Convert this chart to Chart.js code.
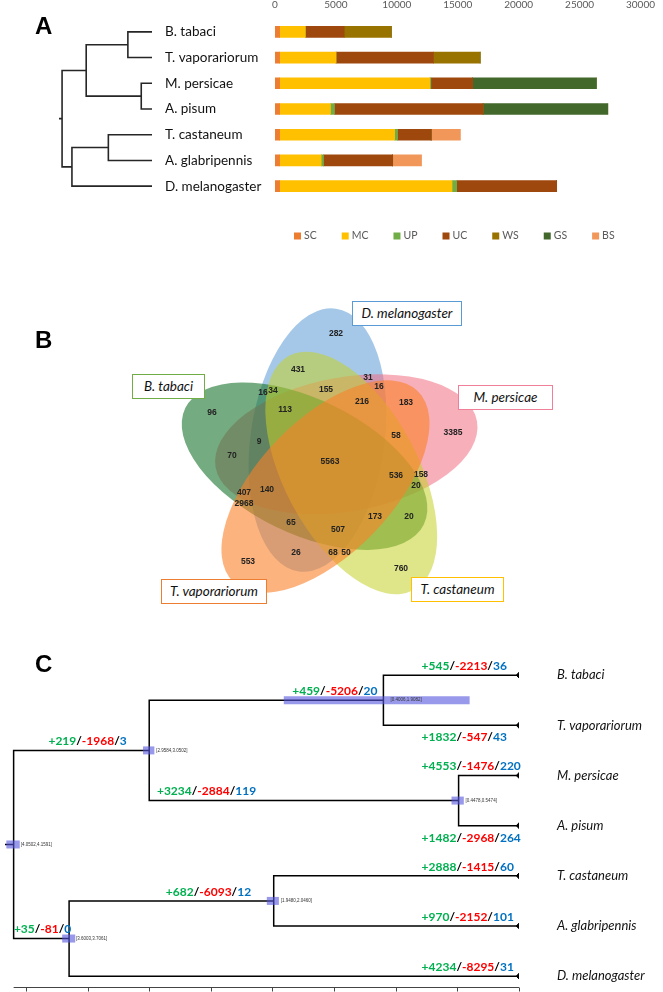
<!DOCTYPE html>
<html><head><meta charset="utf-8">
<script src="https://cdn.jsdelivr.net/npm/chart.js@4.4.1/dist/chart.umd.min.js"></script>
<style>
html,body{margin:0;padding:0;background:#fff;}
#wrap{position:relative;width:663px;height:992px;overflow:hidden;font-family:Lato,'Liberation Sans',sans-serif;}
canvas{position:absolute;}
.lbl{position:absolute;font-weight:bold;font-size:24px;line-height:24px;font-family:'Liberation Sans',Arial,sans-serif;color:#000;}
.box{position:absolute;background:#fff;border:1.5px solid;font-style:italic;font-size:13.5px;text-align:center;height:23px;line-height:23px;color:#111;font-family:Lato,sans-serif;}
</style></head><body>
<div id="wrap">
<canvas id="cA" width="663" height="250" style="left:0;top:0"></canvas>
<canvas id="cTA" width="165" height="250" style="left:0;top:0"></canvas>
<canvas id="cB" width="663" height="370" style="left:0;top:250px"></canvas>
<canvas id="cC" width="663" height="372" style="left:0;top:620px"></canvas>
<div class="lbl" style="left:35px;top:14px">A</div>
<div class="lbl" style="left:35px;top:328px">B</div>
<div class="lbl" style="left:35px;top:652px">C</div>
<div class="box" style="left:352px;top:301px;width:108px;border-color:#5B9BD5">D. melanogaster</div>
<div class="box" style="left:132px;top:374px;width:71px;border-color:#70AD47">B. tabaci</div>
<div class="box" style="left:458px;top:385px;width:93px;border-color:#F0809A">M. persicae</div>
<div class="box" style="left:161px;top:579px;width:104px;border-color:#ED7D31">T. vaporariorum</div>
<div class="box" style="left:411px;top:577px;width:91px;border-color:#FFC000">T. castaneum</div>
</div>
<script>
// ================= DATA =================
const species = ['B. tabaci','T. vaporariorum','M. persicae','A. pisum','T. castaneum','A. glabripennis','D. melanogaster'];
const geneTypes = ['SC','MC','UP','UC','WS','GS','BS'];
const SC = [380,380,380,380,380,380,380];
const MC = [2110,4630,12330,4170,9440,3410,14150];
const UP = [0,0,80,330,240,190,380];
const UC = [3190,8000,3430,12200,2760,5680,8210];
const WS = [3870,3830,0,0,0,0,0];
const GS = [0,0,10170,10240,0,0,0];
const BS = [0,0,0,0,2400,2370,0];
const countTicks = [0,5000,10000,15000,20000,25000,30000];

// Venn (set order: D. melanogaster, M. persicae, T. castaneum, T. vaporariorum, B. tabaci)
const vennSets = ['D. melanogaster','M. persicae','T. castaneum','T. vaporariorum','B. tabaci'];
const vennCombos = ['10000','01000','00100','00010','00001',
  '11000','01100','00110','00011','10001',
  '10100','01010','00101','10010','01001',
  '11100','01110','00111','10011','11001',
  '11010','01101','10110','01011','10101',
  '11110','01111','10111','11011','11101','11111'];
const vennCounts = [282,3385,760,553,96,
  31,158,50,2968,16,
  431,183,20,26,70,
  155,58,173,65,9,
  16,20,68,407,34,
  216,536,507,140,113,5563];

// Time tree (ages in 100 Myr)
const nodeNames = ['root','Hemiptera','Aleyrodidae','Aphididae','Holometabola','Coleoptera'];
const nodeParent = [null,'root','Hemiptera','Hemiptera','root','Holometabola'];
const nodeAges = [4.10,3.00,1.10,0.49,3.65,1.99];
const nodeCILow = [4.0502,2.9584,0.4006,0.4478,3.6003,1.9480];
const nodeCIHigh = [4.1591,3.0502,1.9082,0.5474,3.7061,2.0460];
const tipParent = ['Aleyrodidae','Aleyrodidae','Aphididae','Aphididae','Coleoptera','Coleoptera','Holometabola'];
const tipGain = [545,1832,4553,1482,2888,970,4234];
const tipLoss = [2213,547,1476,2968,1415,2152,8295];
const tipRapid = [36,43,220,264,60,101,31];
const nodeGain = [null,219,459,3234,35,682];
const nodeLoss = [null,1968,5206,2884,81,6093];
const nodeRapid = [null,3,20,119,0,12];
const timeTicks = [4.0,3.5,3.0,2.5,2.0,1.5,1.0,0.5,0];

// ================= STYLE / LAYOUT =================
Chart.defaults.font.family = "Lato, 'Liberation Sans', sans-serif";
const typeColors = ['#ED7D31','#FFC000','#70AD47','#9E480E','#997300','#43682B','#F1975A'];
const vennFill = ['rgba(91,155,213,0.55)','rgba(240,110,130,0.55)','rgba(196,208,40,0.55)','rgba(250,128,40,0.6)','rgba(30,120,50,0.62)'];
const vennDrawOrder = [0,1,4,2,3];
const VG = {r:24.8, a:132.7, b:67, offAng:-117.8, axisAng:-82};
const ROOT_STUB = 0.14;
const nodeLabelAge = [null,3.50,1.494,2.535,3.865,2.519];
const TIP_LABEL_AGE = 0.79;
const tipLabelBelow = [false,true,false,true,false,false,false];

// ================= TREE HELPERS =================
function treeLayout(){
  const yTip = species.map((s,i)=>i);
  const nodeY = {};
  function yOf(name){
    if (nodeY[name]!==undefined) return nodeY[name];
    const kids = [];
    tipParent.forEach((p,i)=>{ if(p===name) kids.push(yTip[i]); });
    nodeParent.forEach((p,i)=>{ if(p===name) kids.push(yOf(nodeNames[i])); });
    const y = kids.reduce((a,b)=>a+b,0)/kids.length;
    nodeY[name]=y; return y;
  }
  nodeNames.forEach(n=>yOf(n));
  const ageOf = n => nodeAges[nodeNames.indexOf(n)];
  const pts = [];
  const gap = () => pts.push({x:0,y:null});
  tipParent.forEach((p,i)=>{ pts.push({x:ageOf(p),y:nodeY[p]},{x:ageOf(p),y:yTip[i]},{x:0,y:yTip[i]}); gap(); });
  nodeParent.forEach((p,i)=>{ if(!p) return; const n=nodeNames[i];
    pts.push({x:ageOf(p),y:nodeY[p]},{x:ageOf(p),y:nodeY[n]},{x:nodeAges[i],y:nodeY[n]}); gap(); });
  pts.push({x:nodeAges[0]+ROOT_STUB,y:nodeY.root},{x:nodeAges[0],y:nodeY.root});
  return {pts, nodeY, yTip};
}
const TL = treeLayout();

// ================= PANEL A =================
const legendA = {id:'legendA', afterDraw(chart){
  const ctx=chart.ctx; ctx.save(); ctx.font="10.5px Lato"; ctx.textBaseline='middle';
  let x=294; const y=236;
  chart.data.datasets.forEach(ds=>{
    ctx.fillStyle=ds.backgroundColor; ctx.fillRect(x,y-3.5,7,7);
    ctx.fillStyle='#595959'; ctx.fillText(ds.label,x+10,y);
    x += 10 + ctx.measureText(ds.label).width + 25;
  });
  ctx.restore();
}};
const seriesA = [SC,MC,UP,UC,WS,GS,BS];
new Chart(document.getElementById('cA'), {
  type:'bar',
  data:{labels:species, datasets: geneTypes.map((g,i)=>({label:g, data:seriesA[i], backgroundColor:typeColors[i], barThickness:11, borderWidth:0}))},
  options:{
    indexAxis:'y', responsive:false, animation:false, events:[],
    layout:{padding:{left:165,right:17,top:0,bottom:51}},
    plugins:{legend:{display:false}, tooltip:{enabled:false}},
    scales:{
      x:{position:'top', stacked:true, min:0, max:30000,
         afterBuildTicks(s){ s.ticks = countTicks.map(v=>({value:v})); },
         ticks:{color:'#595959', font:{size:10}, padding:8, maxRotation:0, autoSkip:false, callback:v=>String(v)},
         grid:{display:false, drawTicks:false}, border:{display:false},
         afterFit(s){ s.height=19; }},
      y:{stacked:true, ticks:{crossAlign:'far', color:'#111', font:{size:13.5}, padding:0},
         grid:{display:false, drawTicks:false}, border:{display:false},
         afterFit(s){ s.width=110; }}
    }
  },
  plugins:[legendA]
});

new Chart(document.getElementById('cTA'), {
  type:'scatter',
  data:{datasets:[{data:TL.pts, showLine:true, spanGaps:false, borderColor:'#262626', borderWidth:1.6, pointRadius:0}]},
  options:{responsive:false, animation:false, events:[],
    layout:{padding:{left:59,right:13,top:19,bottom:51}},
    plugins:{legend:{display:false}, tooltip:{enabled:false}},
    scales:{x:{type:'linear', reverse:true, min:0, max:nodeAges[0]+ROOT_STUB, display:false},
            y:{type:'linear', reverse:true, min:-0.5, max:6.5, display:false}}}
});

// ================= PANEL B (Venn) =================
function vennEllipses(){
  const out=[];
  for(let k=0;k<5;k++){
    const oa=(VG.offAng+72*k)*Math.PI/180, aa=(VG.axisAng+72*k)*Math.PI/180;
    out.push({cx:VG.r*Math.cos(oa), cy:VG.r*Math.sin(oa), ux:Math.cos(aa), uy:Math.sin(aa), rot:aa, a:VG.a, b:VG.b});
  }
  return out;
}
const ELL = vennEllipses();
function regionPoles(){
  const x0=-200,x1=200,y0=-180,y1=170, W=x1-x0+1, H=y1-y0+1;
  const mask=new Uint8Array(W*H);
  for(let j=0;j<H;j++) for(let i=0;i<W;i++){
    const px=x0+i, py=y0+j; let m=0;
    for(let k=0;k<5;k++){ const e=ELL[k]; const dx=px-e.cx, dy=py-e.cy;
      const s=dx*e.ux+dy*e.uy, t=-dx*e.uy+dy*e.ux;
      if((s/e.a)*(s/e.a)+(t/e.b)*(t/e.b)<1) m|=(1<<k); }
    mask[j*W+i]=m;
  }
  const d=new Float32Array(W*H); const INF=1e9;
  for(let j=0;j<H;j++) for(let i=0;i<W;i++){ const id=j*W+i, m=mask[id];
    let b=(i===0||j===0||i===W-1||j===H-1);
    if(!b && (mask[id-1]!==m||mask[id+1]!==m||mask[id-W]!==m||mask[id+W]!==m)) b=true;
    d[id]=b?0:INF; }
  const R2=1.4142;
  for(let j=1;j<H-1;j++) for(let i=1;i<W-1;i++){ const id=j*W+i; let v=d[id]; if(v===0) continue;
    v=Math.min(v,d[id-1]+1,d[id-W]+1,d[id-W-1]+R2,d[id-W+1]+R2); d[id]=v; }
  for(let j=H-2;j>0;j--) for(let i=W-2;i>0;i--){ const id=j*W+i; let v=d[id]; if(v===0) continue;
    v=Math.min(v,d[id+1]+1,d[id+W]+1,d[id+W+1]+R2,d[id+W-1]+R2); d[id]=v; }
  const best={};
  for(let j=0;j<H;j++) for(let i=0;i<W;i++){ const id=j*W+i, m=mask[id]; if(!m) continue;
    if(!best[m]||d[id]>best[m].d) best[m]={d:d[id],x:x0+i,y:y0+j}; }
  return best;
}
const POLES = regionPoles();
const comboMask = c => c.split('').reduce((m,ch,k)=>m|(ch==='1'?(1<<k):0),0);
const vennPts = vennCombos.map(c=>{ const p=POLES[comboMask(c)]; return p?{x:p.x,y:p.y}:{x:0,y:null}; });

const vennPlugin = {id:'venn',
  beforeDatasetsDraw(chart){
    const ctx=chart.ctx, xs=chart.scales.x, ys=chart.scales.y;
    const kx=xs.getPixelForValue(1)-xs.getPixelForValue(0), ky=ys.getPixelForValue(1)-ys.getPixelForValue(0);
    ctx.save();
    vennDrawOrder.forEach(k=>{ const e=ELL[k];
      ctx.beginPath();
      ctx.ellipse(xs.getPixelForValue(e.cx), ys.getPixelForValue(e.cy), e.a*Math.abs(kx), e.b*Math.abs(ky), e.rot, 0, Math.PI*2);
      ctx.fillStyle=vennFill[k]; ctx.fill(); });
    ctx.restore();
  },
  afterDatasetsDraw(chart){
    const ctx=chart.ctx, meta=chart.getDatasetMeta(0);
    ctx.save(); ctx.font="bold 8.5px 'Liberation Sans', Arial, sans-serif"; ctx.fillStyle='#222';
    ctx.textAlign='center'; ctx.textBaseline='middle';
    meta.data.forEach((el,i)=>{ if(vennPts[i].y===null) return; ctx.fillText(String(vennCounts[i]), el.x, el.y); });
    ctx.restore();
  }};
new Chart(document.getElementById('cB'), {
  type:'scatter',
  data:{datasets:[{label:'shared gene families', data:vennPts, pointRadius:0}]},
  options:{responsive:false, animation:false, events:[],
    layout:{padding:0},
    plugins:{legend:{display:false}, tooltip:{enabled:false}},
    scales:{x:{type:'linear', min:-329, max:334, display:false},
            y:{type:'linear', reverse:true, min:-212, max:158, display:false}}},
  plugins:[vennPlugin]
});

// ================= PANEL C =================
function drawParts(ctx, parts, x, y, align){
  ctx.font="bold 12px Lato";
  const w=parts.map(p=>ctx.measureText(p[0]).width), tot=w.reduce((a,b)=>a+b,0);
  let cx = align==='center'? x-tot/2 : (align==='right'? x-tot : x);
  ctx.textAlign='left'; ctx.textBaseline='middle';
  parts.forEach((p,i)=>{ ctx.fillStyle=p[1]; ctx.fillText(p[0],cx,y); cx+=w[i]; });
}
const gl = (g,l,r)=>[['+'+g,'#00B050'],['/','#000'],['-'+l,'#FF0000'],['/','#000'],[String(r),'#0070C0']];
const treeC = {id:'treeC',
  afterDatasetsDraw(chart){
    const ctx=chart.ctx, xs=chart.scales.x, ys=chart.scales.y, ca=chart.chartArea;
    ctx.save();
    nodeNames.forEach((n,i)=>{
      const xa=xs.getPixelForValue(nodeCIHigh[i]), xb=xs.getPixelForValue(nodeCILow[i]), y=ys.getPixelForValue(TL.nodeY[n]);
      ctx.fillStyle='rgba(85,85,222,0.6)'; ctx.fillRect(xa,y-4,xb-xa,8);
      ctx.font="4.5px 'Liberation Sans', Arial, sans-serif"; ctx.fillStyle='#333'; ctx.textBaseline='middle'; ctx.textAlign='left';
      ctx.fillText('['+nodeCILow[i].toFixed(4)+','+nodeCIHigh[i].toFixed(4)+']', xs.getPixelForValue(nodeAges[i])+7, y);
    });
    species.forEach((s,i)=>{
      const y=ys.getPixelForValue(TL.yTip[i]);
      drawParts(ctx, gl(tipGain[i],tipLoss[i],tipRapid[i]), xs.getPixelForValue(TIP_LABEL_AGE), tipLabelBelow[i]? y+12 : y-9, 'left');
    });
    nodeNames.forEach((n,i)=>{ if(nodeGain[i]===null) return;
      const y=ys.getPixelForValue(TL.nodeY[n]);
      drawParts(ctx, gl(nodeGain[i],nodeLoss[i],nodeRapid[i]), xs.getPixelForValue(nodeLabelAge[i]), y-9, 'center');
    });
    ctx.font="italic 13px Lato"; ctx.fillStyle='#111'; ctx.textAlign='left'; ctx.textBaseline='middle';
    species.forEach((s,i)=>ctx.fillText(s, ca.right+38, ys.getPixelForValue(TL.yTip[i])));
    ctx.strokeStyle='#444'; ctx.lineWidth=1;
    const ay=ca.bottom+0.5;
    ctx.beginPath(); ctx.moveTo(xs.getPixelForValue(nodeAges[0]),ay); ctx.lineTo(xs.getPixelForValue(0),ay);
    timeTicks.forEach(t=>{ const x=Math.round(xs.getPixelForValue(t))+0.5; ctx.moveTo(x,ay); ctx.lineTo(x,ay+4); });
    ctx.stroke();
    ctx.restore();
  }};
new Chart(document.getElementById('cC'), {
  type:'scatter',
  data:{datasets:[
    {data:TL.pts, showLine:true, spanGaps:false, borderColor:'#000', borderWidth:1.5, pointRadius:0},
    {data:species.map((s,i)=>({x:0,y:TL.yTip[i]})), pointStyle:'rectRot', pointRadius:2.8, backgroundColor:'#000', borderColor:'#000'}
  ]},
  options:{responsive:false, animation:false, events:[],
    layout:{padding:{left:0,right:144,top:0,bottom:4}},
    plugins:{legend:{display:false}, tooltip:{enabled:false}},
    scales:{x:{type:'linear', reverse:true, min:0, max:4.17, display:false},
            y:{type:'linear', reverse:true, min:-1, max:6.216, display:false}}},
  plugins:[treeC]
});
</script>
</body></html>
